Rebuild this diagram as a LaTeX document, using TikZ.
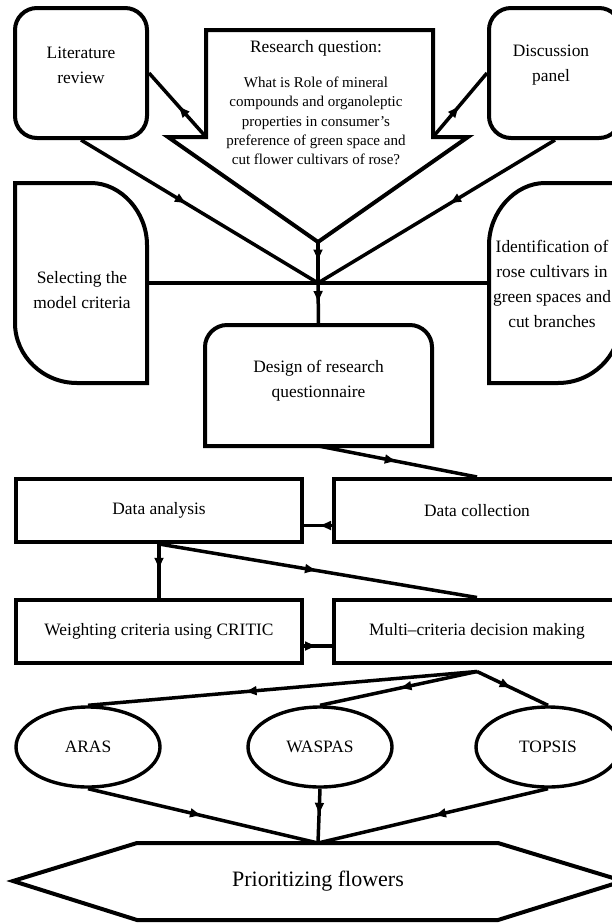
\documentclass[tikz,border=0pt]{standalone}
\usepackage{fontspec}
\setmainfont{Liberation Serif}
\usetikzlibrary{shapes.geometric, arrows.meta, decorations.markings, positioning}

\tikzset{
  every node/.style={font=\fontsize{17.4}{25}\selectfont, align=center},
  ln/.style={line width=3.5pt},
  edge/.style={line width=4pt},
  midarrow/.style={ln, postaction={decorate}, decoration={markings, mark=at position #1 with {\arrow{Latex[length=13pt,width=10pt]}}}},
  midarrow/.default=0.5,
  rbox/.style={draw, edge, rounded corners=22pt, minimum width=132, minimum height=130},
  sbox/.style={draw, edge, minimum width=286, minimum height=63},
  oval/.style={draw, ellipse, line width=3.4pt, minimum width=144, minimum height=80, inner sep=0pt},
  frame/.style={inner sep=0pt, outer sep=0pt},
}

\begin{document}
\begin{tikzpicture}[x=1pt, y=-1pt]
  \useasboundingbox (0,0) rectangle (611,924);
  \fill[white] (0,0) rectangle (611,924);

  % top row
  \node[rbox] (lit) at (81,73) {};
  \node (littext) at ([yshift=8pt]lit.center) {Literature\\review};
  \node[rbox] (disc) at (555,73) {};
  \node (disctext) at ([yshift=8pt, xshift=-4pt]disc.center) {Discussion\\panel};

  % research question
  \draw[edge] (206,30) -- (433,30) -- (433,137) -- (468,137) -- (318,242) -- (168,137) -- (206,137) -- cycle;
  \coordinate (qL) at (206,137);
  \coordinate (qR) at (433,137);
  \coordinate (apex) at (318,242);
  \coordinate (hub) at (318,283);
  \node (qtitle) at (316,48) {Research question:};
  \node[font=\fontsize{15}{19.3}\selectfont] (qbody) at (316,121)
    {What is Role of mineral\\compounds and organoleptic\\properties in consumer's\\preference of green space and\\cut flower cultivars of rose?};

  % side boxes
  \draw[edge] (15,183) -- (91,183) .. controls (121,183) and (147,212) .. (147,245) -- (147,383) -- (77,383) .. controls (43,383) and (15,356) .. (15,323) -- cycle;
  \node[frame, minimum width=132, minimum height=200] (sel) at (81,283) {};
  \node (seltext) at (82,290) {Selecting the\\model criteria};
  \draw[edge] (489,245) .. controls (489,212) and (515,183) .. (545,183) -- (620,183) -- (620,323) .. controls (620,356) and (592,383) .. (558,383) -- (489,383) -- cycle;
  \node[frame, minimum width=131, minimum height=200] (ident) at (554.5,283) {};
  \node (identtext) at (552,284) {Identification of\\rose cultivars in\\green spaces and\\cut branches};

  % questionnaire
  \draw[edge] (205,446) -- (205,347) .. controls (205,335) and (215,325) .. (227,325) -- (410,325) .. controls (422,325) and (432,335) .. (432,347) -- (432,446) -- cycle;
  \node[frame, minimum width=227, minimum height=121] (design) at (318.5,385.5) {};
  \node (designtext) at (318.5,381) {Design of research\\questionnaire};

  % data and criteria
  \node[sbox] (analysis) at (159,510.5) {Data analysis};
  \node[sbox] (collect) at (477,510.5) {Data collection};
  \node[sbox] (weight) at (159,631) {Weighting criteria using CRITIC};
  \node[sbox] (multi) at (477,631) {Multi--criteria decision making};

  % methods
  \node[oval] (aras) at (88,747) {ARAS};
  \node[oval] (waspas) at (320,747) {WASPAS};
  \node[oval] (topsis) at (548,747) {TOPSIS};

  \draw[edge] (13,881) -- (137,843) -- (498,843) -- (623,881) -- (498,920) -- (137,920) -- cycle;
  \node[frame, minimum height=77, font=\fontsize{22}{26}\selectfont] (prio) at (318,881.5) {Prioritizing flowers};

  % connectors
  \draw[midarrow] (qL) -- (lit.east);
  \draw[midarrow] (qR) -- (disc.west);
  \draw[midarrow=0.45] (lit.south) -- (hub);
  \draw[midarrow=0.45] (disc.south) -- (hub);
  \draw[midarrow] (apex) -- (hub);
  \draw[midarrow] (hub) -- (design.north);
  \draw[ln] (sel.east) -- (ident.west);
  \draw[midarrow] (design.south) -- (collect.north);
  \draw[midarrow] ([yshift=-15pt]collect.west) -- ([yshift=-15pt]analysis.east);
  \draw[midarrow] (analysis.south) -- (weight.north);
  \draw[midarrow] (analysis.south) -- (multi.north);
  \draw[midarrow] ([yshift=-15pt]weight.east) -- ([yshift=-15pt]multi.west);
  \coordinate (fan) at ([yshift=-7pt]multi.south);
  \draw[midarrow=0.6] (fan) -- (aras.north);
  \draw[midarrow] (fan) -- (waspas.north);
  \draw[midarrow] (fan) -- (topsis.north);
  \foreach \m in {aras, waspas, topsis}
    \draw[midarrow] (\m.south) -- (prio.north);
\end{tikzpicture}
\end{document}
